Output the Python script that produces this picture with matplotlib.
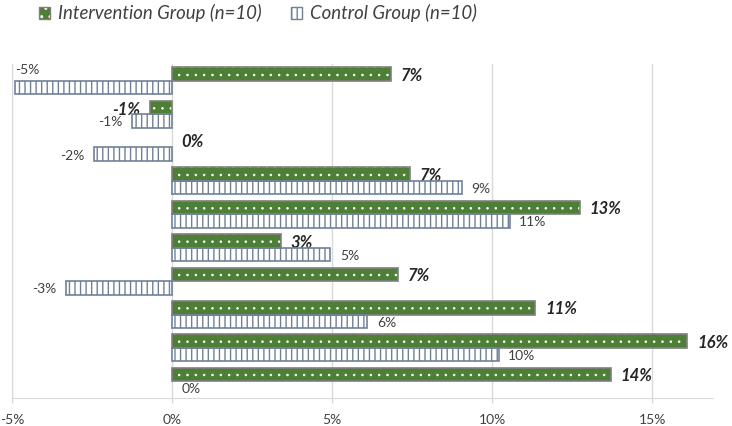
import matplotlib
matplotlib.use("Agg")
import matplotlib.pyplot as plt
from matplotlib.patches import Patch
from matplotlib.legend_handler import HandlerTuple
import numpy as np

# values (percent change)
int_vals = [6.85, -0.7, 0.0, 7.45, 12.75, 3.4, 7.05, 11.35, 16.1, 13.7]
ctrl_vals = [-4.9, -1.25, -2.45, 9.05, 10.55, 4.95, -3.3, 6.1, 10.2, 0.0]
int_labels = ['7%', '-1%', '0%', '7%', '13%', '3%', '7%', '11%', '16%', '14%']
ctrl_labels = ['-5%', '-1%', '-2%', '9%', '11%', '5%', '-3%', '6%', '10%', '0%']
x_ticks = [-5, 0, 5, 10, 15]
x_ticklabels = ['-5%', '0%', '5%', '10%', '15%']
legend_names = ['Intervention Group (n=10)', 'Control Group (n=10)']

plt.rcParams['font.family'] = ['Lato', 'DejaVu Sans']

green = '#4e7f36'
edge = '#7f7f7f'
ctrl_edge = '#6f8197'
txt = '#404040'

fig = plt.figure(figsize=(7.32, 4.26), dpi=100)
ax = fig.add_axes([0.0164, 0.0657, 0.9576, 0.7841])

y = np.arange(len(int_vals))
h = 0.405
yi = y - h / 2
yc = y + h / 2

# no outline on zero-length bars
lw_int = [0 if v == 0 else 1.2 for v in int_vals]
lw_ctrl = [0 if v == 0 else 1.2 for v in ctrl_vals]

# intervention: green with small white dots, grey outline
plt.rcParams['hatch.linewidth'] = 0.6
ax.barh(yi, int_vals, height=h, color=green, edgecolor='white', hatch='..', linewidth=0, zorder=3)
legend_fill_int = Patch(facecolor=green, edgecolor='white', hatch='..', linewidth=0)
ax.barh(yi, int_vals, height=h, color='none', edgecolor=edge, linewidth=lw_int, zorder=4)
# control: white with vertical lines
plt.rcParams['hatch.linewidth'] = 1.0
ax.barh(yc, ctrl_vals, height=h, color='white', edgecolor=ctrl_edge, hatch='|||', linewidth=0, zorder=3)
legend_fill_ctrl = Patch(facecolor='white', edgecolor=ctrl_edge, hatch='|||', linewidth=0)
ax.barh(yc, ctrl_vals, height=h, color='none', edgecolor=ctrl_edge, linewidth=lw_ctrl, zorder=4)

for i in range(len(int_vals)):
    v = int_vals[i]
    if v >= 0:
        ax.text(v + 0.3, yi[i] + 0.05, int_labels[i], ha='left', va='center',
                fontsize=12, fontweight='bold', fontstyle='italic', color='#262626')
    else:
        ax.text(v - 0.3, yi[i] + 0.08, int_labels[i], ha='right', va='center',
                fontsize=12, fontweight='bold', fontstyle='italic', color='#262626')
    c = ctrl_vals[i]
    if c <= -4.5:
        ax.text(c, yc[i] - 0.52, ctrl_labels[i], ha='left', va='center', fontsize=10, color=txt)
    elif c >= 0:
        ax.text(c + 0.3, yc[i] + 0.04, ctrl_labels[i], ha='left', va='center', fontsize=10, color=txt)
    else:
        ax.text(c - 0.3, yc[i] + 0.04, ctrl_labels[i], ha='right', va='center', fontsize=10, color=txt)

ax.set_xlim(-5, 16.9)
ax.set_ylim(len(int_vals) - 0.5, -0.5)
ax.set_xticks(x_ticks)
ax.set_xticklabels(x_ticklabels, color=txt, fontsize=10)
ax.set_yticks([])
ax.tick_params(axis='x', length=3.5, width=1, color='#d9d9d9', pad=8)
ax.grid(axis='x', color='#d9d9d9', linewidth=1, zorder=0)
for s in ['top', 'right']:
    ax.spines[s].set_visible(False)
ax.spines['left'].set_color('#bfbfbf')
ax.spines['bottom'].set_color('#d9d9d9')
ax.spines['left'].set_zorder(1)

h1 = (legend_fill_int, Patch(facecolor='none', edgecolor=edge, linewidth=1))
h2 = (legend_fill_ctrl, Patch(facecolor='none', edgecolor=ctrl_edge, linewidth=1))
fig.legend([h1, h2], legend_names, handler_map={tuple: HandlerTuple(ndivide=1, pad=0)},
           loc='center', bbox_to_anchor=(0.352, 0.969), ncol=2, frameon=False,
           prop={'style': 'italic', 'size': 13.4}, labelcolor=txt,
           handlelength=0.6, handleheight=0.6, handletextpad=0.4, columnspacing=1.6)

fig.savefig('out.png', dpi=100)
